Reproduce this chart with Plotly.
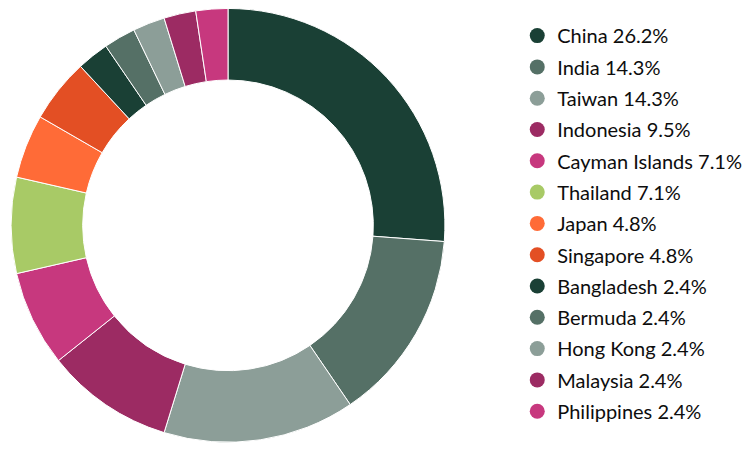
import plotly.graph_objects as go

countries = ["China", "India", "Taiwan", "Indonesia", "Cayman Islands", "Thailand",
             "Japan", "Singapore", "Bangladesh", "Bermuda", "Hong Kong", "Malaysia",
             "Philippines"]
counts = [11, 6, 6, 4, 3, 3, 2, 2, 1, 1, 1, 1, 1]
palette = ["#1a4035", "#557066", "#8c9e98", "#9c2b63", "#c7387e", "#a8ca66",
           "#ff6b37", "#e34f24"]

colors = [palette[i % len(palette)] for i in range(len(countries))]
total = sum(counts)
labels = [f"{c} {v / total * 100:.1f}%" for c, v in zip(countries, counts)]

fig = go.Figure()

fig.add_trace(go.Pie(
    labels=countries,
    values=counts,
    hole=0.67,
    sort=False,
    direction="clockwise",
    rotation=0,
    textinfo="none",
    marker=dict(colors=colors, line=dict(color="white", width=1)),
    showlegend=False,
    domain=dict(x=[0.0027, 0.584], y=[0.035, 0.999]),
))

# legend entries with round markers
for i, (lab, col) in enumerate(zip(labels, colors)):
    fig.add_trace(go.Scatter(
        x=[None], y=[None],
        mode="markers",
        marker=dict(color=col, size=15, symbol="circle"),
        name=lab,
        legendgroup=f"g{i}",
        hoverinfo="skip",
    ))

fig.update_layout(
    width=750,
    height=450,
    margin=dict(l=0, r=0, t=0, b=0),
    paper_bgcolor="white",
    plot_bgcolor="white",
    font=dict(family="Lato", size=20, color="#0d0d0d"),
    xaxis=dict(visible=False),
    yaxis=dict(visible=False),
    legend=dict(
        x=0.679, xanchor="left",
        y=0.982, yanchor="top",
        tracegroupgap=2.3,
        bgcolor="rgba(0,0,0,0)",
        itemclick=False,
    ),
)

fig.write_html("out.html")
